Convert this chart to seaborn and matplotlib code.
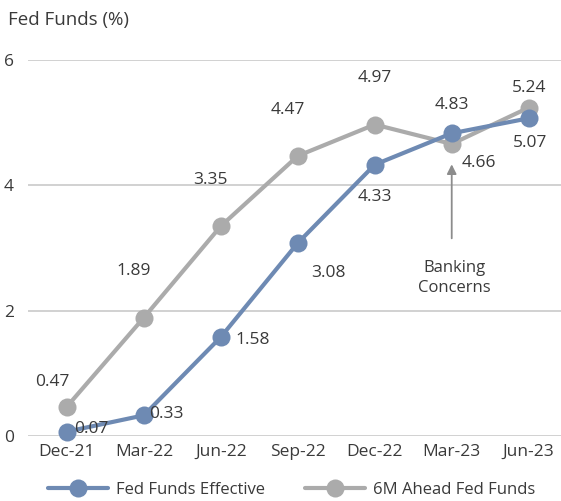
import matplotlib
matplotlib.use("Agg")
import matplotlib.pyplot as plt
import seaborn as sns
import pandas as pd
from matplotlib import font_manager as fm
from matplotlib.lines import Line2D

categories = ["Dec-21", "Mar-22", "Jun-22", "Sep-22", "Dec-22", "Mar-23", "Jun-23"]
fed_effective = [0.07, 0.33, 1.58, 3.08, 4.33, 4.83, 5.07]
fed_6m_ahead = [0.47, 1.89, 3.35, 4.47, 4.97, 4.66, 5.24]
series_names = ["Fed Funds Effective", "6M Ahead Fed Funds"]
y_ticks = [0, 2, 4, 6]

sns.set_theme(style="white")
names = {f.name for f in fm.fontManager.ttflist}
fam = ["Liberation Sans Narrow", "DejaVu Sans"] if "Liberation Sans Narrow" in names else ["Open Sans", "DejaVu Sans"]
plt.rcParams["font.family"] = fam

BLUE = "#6E8AB3"
GRAY = "#ABABAB"
TXT = "#3a3a3a"

df = pd.DataFrame({
    "x": list(range(len(categories))) * 2,
    "value": fed_effective + fed_6m_ahead,
    "series": [series_names[0]] * len(categories) + [series_names[1]] * len(categories),
})

fig = plt.figure(figsize=(5.61, 5.01), dpi=100)
ax = fig.add_axes([28 / 561, 65 / 501, 1 - 28 / 561, (436 - 60) / 501])

sns.lineplot(data=df, x="x", y="value", hue="series", hue_order=[series_names[1], series_names[0]],
             palette={series_names[0]: BLUE, series_names[1]: GRAY},
             marker="o", markersize=13, markeredgewidth=0, linewidth=3, ax=ax, legend=False)
for ln in ax.lines:
    ln.set_clip_on(False)

ax.set_xlim(-0.506, 6.42)
ax.set_ylim(0, 6)
ax.set_yticks(y_ticks)
ax.set_yticklabels([str(t) for t in y_ticks])
ax.set_xticks(range(len(categories)))
ax.set_xticklabels(categories)
ax.tick_params(axis="both", length=0, labelsize=12.5, labelcolor=TXT)
ax.tick_params(axis="x", pad=6)
ax.tick_params(axis="y", pad=10)
ax.yaxis.grid(True, color="#c9c9c9", linewidth=1.2)
ax.xaxis.grid(False)
for s in ax.spines.values():
    s.set_visible(False)
ax.set_xlabel("")
ax.set_ylabel("")
ax.set_axisbelow(True)

fig.text(8 / 561, 1 - 20 / 501, "Fed Funds (%)", fontsize=13.5, color=TXT, va="center", ha="left")

k = 0.72
eff_off = [(24, 3), (22, 1), (32, -3), (31, -30), (0, -32), (0, 28), (1, -25)]
ahead_off = [(-15, 25), (-10, 47), (-10, 46), (-10, 46), (0, 47), (27, -19), (0, 20)]
for i, v in enumerate(fed_effective):
    dx, dy = eff_off[i]
    ax.annotate(f"{v:.2f}", (i, v), xytext=(dx * k, dy * k), textcoords="offset points",
                ha="center", va="center", fontsize=12.5, color=TXT)
for i, v in enumerate(fed_6m_ahead):
    dx, dy = ahead_off[i]
    ax.annotate(f"{v:.2f}", (i, v), xytext=(dx * k, dy * k), textcoords="offset points",
                ha="center", va="center", fontsize=12.5, color=TXT)

ax.annotate("", xy=(5, 4.66 - 0.28), xytext=(5, 4.66 - 1.55),
            arrowprops=dict(arrowstyle="-|>", color="#8c8c8c", lw=1.3, mutation_scale=14))
ax.text(5.04, 4.66 - 2.14, "Banking\nConcerns", ha="center", va="center", fontsize=12,
        color=TXT, linespacing=1.4)

handles = [Line2D([], [], color=BLUE, lw=3, marker="o", markersize=13, markeredgewidth=0),
           Line2D([], [], color=GRAY, lw=3, marker="o", markersize=13, markeredgewidth=0)]
fig.legend(handles, series_names, loc="center", bbox_to_anchor=(0.52, 1 - 490 / 501), ncol=2,
           frameon=False, fontsize=12, handlelength=3.6, columnspacing=2.4, labelcolor=TXT,
           handletextpad=0.5)

fig.savefig("out.png", dpi=100)
